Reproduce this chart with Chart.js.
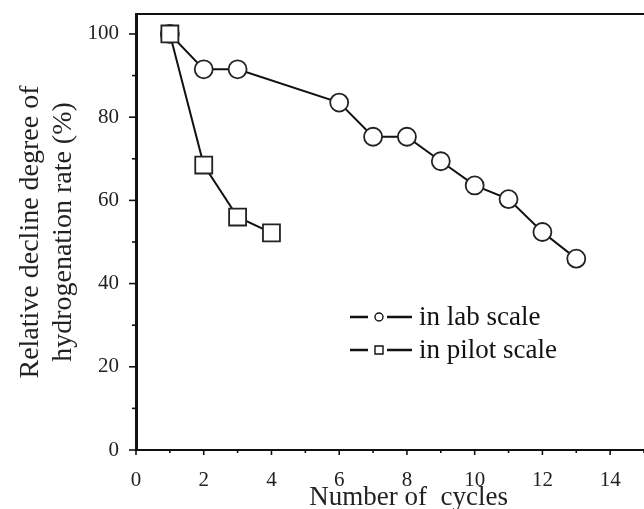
<!DOCTYPE html>
<html>
<head>
<meta charset="utf-8">
<script src="https://cdn.jsdelivr.net/npm/chart.js@4"></script>
<style>
  html, body { margin: 0; padding: 0; background: #fff; }
  #wrap { width: 644px; height: 509px; }
</style>
</head>
<body>
<div id="wrap"><canvas id="cycleChart" width="644" height="509"></canvas></div>
<script>
const labCycles = [1, 2, 3, 6, 7, 8, 9, 10, 11, 12, 13];
const labValues = [100, 91.5, 91.5, 83.5, 75.3, 75.3, 69.4, 63.6, 60.3, 52.4, 46];
const pilotCycles = [1, 2, 3, 4];
const pilotValues = [100, 68.5, 56, 52.2];
const xTicks = [0, 2, 4, 6, 8, 10, 12, 14];
const yTicks = [0, 20, 40, 60, 80, 100];
const xTitle = 'Number of  cycles';
const yTitle = ['Relative decline degree of', 'hydrogenation rate (%)'];

const serif = '"Liberation Serif", "DejaVu Serif", serif';

function toPoints(xs, ys) {
    return xs.map((x, i) => ({ x: x, y: ys[i] }));
}

// top frame line, ticks (major long, minor short) and the x title
const frame = {
    id: 'frame',
    afterDraw(chart) {
        const ctx = chart.ctx;
        const area = chart.chartArea;
        const xs = chart.scales.x;
        const ys = chart.scales.y;
        ctx.save();
        ctx.strokeStyle = '#111';
        ctx.lineWidth = 2;
        ctx.beginPath();
        ctx.moveTo(area.left, area.top);
        ctx.lineTo(chart.width, area.top);
        ctx.stroke();

        ctx.lineWidth = 1.6;
        for (let v = 0; v <= 15; v++) {
            const px = xs.getPixelForValue(v);
            const len = v % 2 === 0 ? 5 : 3;
            ctx.beginPath();
            ctx.moveTo(px, area.bottom);
            ctx.lineTo(px, area.bottom + len);
            ctx.stroke();
        }
        for (let v = 0; v <= 100; v += 10) {
            const py = ys.getPixelForValue(v);
            const len = v % 20 === 0 ? 7 : 4;
            ctx.beginPath();
            ctx.moveTo(area.left, py);
            ctx.lineTo(area.left - len, py);
            ctx.stroke();
        }

        ctx.fillStyle = '#222';
        ctx.font = '27px ' + serif;
        ctx.textAlign = 'center';
        ctx.textBaseline = 'alphabetic';
        ctx.fillText(xTitle, xs.getPixelForValue(8.05), 505);
        ctx.restore();
    }
};

// legend drawn as  —o—  label
const lineLegend = {
    id: 'lineLegend',
    afterDraw(chart) {
        const ctx = chart.ctx;
        const x0 = 350;
        let y = 317;
        ctx.save();
        chart.data.datasets.forEach(ds => {
            ctx.strokeStyle = '#111';
            ctx.lineWidth = 2.4;
            ctx.beginPath();
            ctx.moveTo(x0, y);
            ctx.lineTo(x0 + 18, y);
            ctx.moveTo(x0 + 37, y);
            ctx.lineTo(x0 + 62, y);
            ctx.stroke();
            ctx.lineWidth = 1.4;
            ctx.fillStyle = '#fff';
            ctx.beginPath();
            if (ds.pointStyle === 'rect') {
                ctx.rect(x0 + 25, y - 4, 8, 8);
            } else {
                ctx.arc(x0 + 29, y, 4, 0, Math.PI * 2);
            }
            ctx.fill();
            ctx.stroke();
            ctx.fillStyle = '#111';
            ctx.font = '27px ' + serif;
            ctx.textBaseline = 'middle';
            ctx.fillText(ds.label, x0 + 69, y + 1);
            y += 33;
        });
        ctx.restore();
    }
};

const ctx = document.getElementById('cycleChart').getContext('2d');

new Chart(ctx, {
    type: 'line',
    data: {
        datasets: [{
            label: 'in lab scale',
            data: toPoints(labCycles, labValues),
            borderColor: '#111',
            borderWidth: 2,
            pointStyle: 'circle',
            pointRadius: 9,
            pointBorderWidth: 1.8,
            pointBackgroundColor: '#fff',
            pointBorderColor: '#222',
            tension: 0,
            order: 2
        }, {
            label: 'in pilot scale',
            data: toPoints(pilotCycles, pilotValues),
            borderColor: '#111',
            borderWidth: 2,
            pointStyle: 'rect',
            pointRadius: 12,
            pointBorderWidth: 1.8,
            pointBackgroundColor: '#fff',
            pointBorderColor: '#222',
            tension: 0,
            order: 1
        }]
    },
    options: {
        responsive: false,
        animation: false,
        clip: false,
        layout: {
            autoPadding: false,
            padding: { top: 14, right: 0, left: 0, bottom: 0 }
        },
        plugins: {
            legend: { display: false },
            tooltip: { enabled: false }
        },
        scales: {
            x: {
                type: 'linear',
                min: 0,
                max: 15,
                afterBuildTicks: s => { s.ticks = xTicks.map(v => ({ value: v })); },
                afterFit: s => {
                    s.height = 59;
                    s.paddingLeft = 0;
                    s.paddingRight = 0;
                },
                grid: { display: false, drawTicks: false },
                border: { display: true, color: '#111', width: 2 },
                ticks: {
                    color: '#222',
                    padding: 18,
                    font: { family: serif, size: 21 }
                }
            },
            y: {
                min: 0,
                max: 104.8,
                afterBuildTicks: s => { s.ticks = yTicks.map(v => ({ value: v })); },
                afterFit: s => {
                    s.width = 136;
                    s.paddingTop = 0;
                    s.paddingBottom = 0;
                },
                grid: { display: false, drawTicks: false },
                border: { display: true, color: '#111', width: 3 },
                ticks: {
                    color: '#222',
                    padding: 17,
                    font: { family: serif, size: 21 }
                },
                title: {
                    display: true,
                    text: yTitle,
                    color: '#222',
                    padding: { top: 15, bottom: 0 },
                    font: { family: serif, size: 28, lineHeight: 1.15 }
                }
            }
        }
    },
    plugins: [frame, lineLegend]
});
</script>
</body>
</html>
